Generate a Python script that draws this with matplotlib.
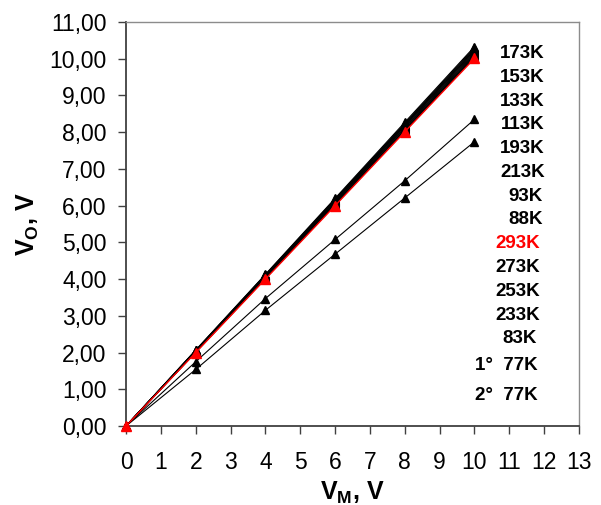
import matplotlib.pyplot as plt
from matplotlib.ticker import FuncFormatter, MultipleLocator

plt.rcParams['font.family'] = ['Liberation Sans', 'DejaVu Sans']
plt.rcParams['mathtext.fontset'] = 'custom'
plt.rcParams['mathtext.bf'] = 'Liberation Sans:bold'
plt.rcParams['mathtext.rm'] = 'Liberation Sans'

# Measured input voltage (V)
vm = [0, 2, 4, 6, 8, 10]

# Output voltage per temperature (V)
temps = ['173K', '153K', '133K', '113K', '193K', '213K', '93K', '88K',
         '293K', '273K', '253K', '233K', '83K', '1°  77K', '2°  77K']
vo = {
    '173K': [0, 2.07, 4.13, 6.20, 8.27, 10.33],
    '153K': [0, 2.06, 4.12, 6.18, 8.24, 10.30],
    '133K': [0, 2.06, 4.11, 6.16, 8.22, 10.27],
    '113K': [0, 2.05, 4.10, 6.15, 8.20, 10.24],
    '193K': [0, 2.05, 4.09, 6.13, 8.18, 10.22],
    '213K': [0, 2.04, 4.08, 6.12, 8.16, 10.19],
    '93K': [0, 2.04, 4.07, 6.10, 8.13, 10.16],
    '88K': [0, 2.03, 4.06, 6.09, 8.11, 10.13],
    '293K': [0, 2.00, 4.00, 6.00, 8.01, 10.01],
    '273K': [0, 2.01, 4.02, 6.03, 8.04, 10.05],
    '253K': [0, 2.02, 4.03, 6.05, 8.06, 10.08],
    '233K': [0, 2.02, 4.04, 6.06, 8.08, 10.10],
    '83K': [0, 2.01, 4.02, 6.02, 8.03, 10.04],
    '1°  77K': [0, 1.75, 3.47, 5.08, 6.68, 8.35],
    '2°  77K': [0, 1.54, 3.15, 4.68, 6.21, 7.74],
}
highlight = '293K'

fig = plt.figure(figsize=(6.01, 5.05), dpi=100)
ax = fig.add_axes([0.2097, 0.1564, 0.7537, 0.8000])

for name in temps:
    if name == highlight:
        continue
    ax.plot(vm, vo[name], color='black', lw=0.8, marker='^', ms=5.5,
            clip_on=False, zorder=3)
ax.plot(vm, vo[highlight], color='red', lw=1.0, marker='^', ms=7,
        markeredgecolor='red', clip_on=False, zorder=4)

# temperature labels down the right side (x = right edge, y in data units)
label_x = [12.02, 12.02, 12.02, 12.02, 12.02, 12.02, 11.97, 11.97,
           11.88, 11.88, 11.88, 11.88, 11.80, 11.80, 11.80]
label_y = [10.14, 9.49, 8.83, 8.20, 7.55, 6.90, 6.24, 5.61,
           4.96, 4.31, 3.65, 3.02, 2.37, 1.66, 0.84]
for name, lx, ly in zip(temps, label_x, label_y):
    ax.text(lx, ly, name, ha='right', va='center', fontsize=13.5,
            fontweight='bold', color='red' if name == highlight else 'black')

ax.set_xlim(0, 13)
ax.set_ylim(0, 11)
ax.xaxis.set_major_locator(MultipleLocator(1))
ax.yaxis.set_major_locator(MultipleLocator(1))
ax.yaxis.set_major_formatter(FuncFormatter(lambda v, p: f'{v:.2f}'.replace('.', ',')))
ax.tick_params(direction='out', length=6, width=1, color='#404040',
               labelsize=16.5)
ax.tick_params(axis='y', pad=8)
ax.tick_params(axis='x', pad=12)

for s in ['left', 'bottom']:
    ax.spines[s].set_color('#404040')
    ax.spines[s].set_linewidth(1.3)
for s in ['top', 'right']:
    ax.spines[s].set_color('#8c8c8c')
    ax.spines[s].set_linewidth(1.0)

ax.set_xlabel(r'$\mathbf{V_M}$, V', fontsize=18, fontweight='bold', labelpad=4)
ax.set_ylabel(r'$\mathbf{V_O}$, V', fontsize=18, fontweight='bold', labelpad=6)

fig.savefig('out.png', dpi=100)
